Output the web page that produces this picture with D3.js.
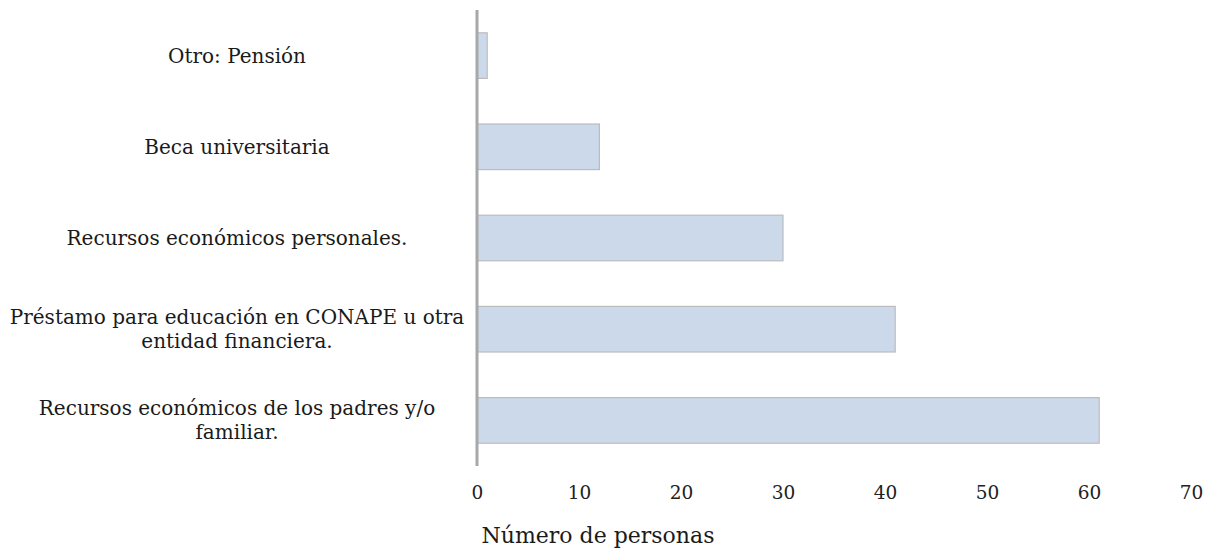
<!DOCTYPE html>
<html><head><meta charset="utf-8">
<script src="https://cdn.jsdelivr.net/npm/d3@7"></script>
<style>body{margin:0;background:#fff}</style>
</head><body>
<svg id="c" width="1224" height="554"></svg>
<script>
const categories = [
  ["Otro: Pensión"],
  ["Beca universitaria"],
  ["Recursos económicos personales."],
  ["Préstamo para educación en CONAPE u otra", "entidad financiera."],
  ["Recursos económicos de los padres y/o", "familiar."]
];
const values = [1, 12, 30, 41, 61];
const tickValues = [0, 10, 20, 30, 40, 50, 60, 70];
const axisTitle = "Número de personas";

const svg = d3.select("#c");
const x = d3.scaleLinear().domain([0, 70]).range([477, 1191]);
const y = d3.scaleBand().domain(d3.range(categories.length)).range([10, 466]).paddingInner(0.5).paddingOuter(0.25);
const labelFont = "'DejaVu Serif', serif";

svg.append("g").selectAll("rect").data(values).join("rect")
  .attr("x", x(0)).attr("y", (d, i) => y(i))
  .attr("width", d => x(d) - x(0)).attr("height", y.bandwidth())
  .attr("fill", "#cbd9eb").attr("stroke", "#bcbcbc").attr("stroke-width", 1.2);

svg.append("line").attr("x1", x(0)).attr("x2", x(0)).attr("y1", 10).attr("y2", 466)
  .attr("stroke", "#a8a8a8").attr("stroke-width", 3);

const ax = svg.append("g").attr("transform", "translate(0,466)")
  .call(d3.axisBottom(x).tickValues(tickValues).tickSize(0).tickPadding(20));
ax.select(".domain").remove();
ax.selectAll("text").attr("font-family", labelFont).attr("font-size", 18.5).attr("fill", "#222");

const lab = svg.append("g").selectAll("text").data(categories).join("text")
  .attr("font-family", labelFont).attr("font-size", 20).attr("fill", "#1a1a1a")
  .attr("text-anchor", "middle")
  .attr("y", (d, i) => y(i) + y.bandwidth() / 2 - (d.length - 1) * 12 + 7);
lab.selectAll("tspan").data(d => d).join("tspan")
  .attr("x", 237).attr("dy", (d, j) => j === 0 ? 0 : 24).text(d => d);

svg.append("text").attr("x", 598).attr("y", 543).attr("text-anchor", "middle")
  .attr("font-family", labelFont).attr("font-size", 22).attr("fill", "#1a1a1a").text(axisTitle);
</script>
</body></html>
